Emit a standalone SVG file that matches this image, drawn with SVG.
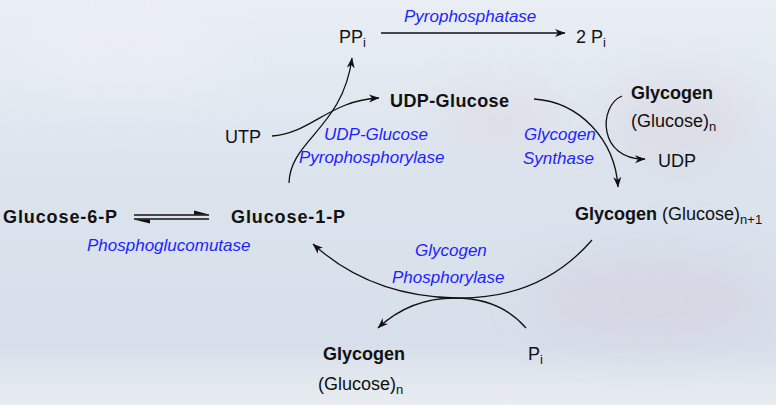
<svg xmlns="http://www.w3.org/2000/svg" width="776" height="405" viewBox="0 0 776 405">
<defs>
<linearGradient id="bg" x1="0" y1="0" x2="0" y2="1">
<stop offset="0" stop-color="#e9eef4"/>
<stop offset="0.45" stop-color="#dbe3ed"/>
<stop offset="0.85" stop-color="#d7dfea"/>
<stop offset="1" stop-color="#e9edf1"/>
</linearGradient>
<filter id="blur" x="-50%" y="-50%" width="200%" height="200%"><feGaussianBlur stdDeviation="25"/></filter>
<marker id="ah" markerUnits="userSpaceOnUse" markerWidth="11" markerHeight="9" refX="10" refY="4.5" orient="auto">
<path d="M0,0.5 L10.5,4.5 L0,8.5 L3,4.5 z" fill="#111"/>
</marker>
<style>
.b{font-family:"Liberation Sans",Arial,sans-serif;font-weight:bold;font-size:18px;fill:#111}
.r{font-family:"Liberation Sans",Arial,sans-serif;font-size:18px;fill:#111}
.e{font-family:"Liberation Sans",Arial,sans-serif;font-style:italic;font-size:17px;fill:#1f1fff}
.s{font-size:13px}
.g{letter-spacing:0.9px}
.c{fill:none;stroke:#111;stroke-width:1.3}
</style>
</defs>
<rect width="776" height="405" fill="url(#bg)"/>
<g filter="url(#blur)" opacity="0.4">
<ellipse cx="680" cy="120" rx="70" ry="40" fill="#d6ccd6"/>
<ellipse cx="650" cy="300" rx="120" ry="40" fill="#d0c8d6"/>
<ellipse cx="500" cy="120" rx="60" ry="30" fill="#dad2da"/>
<ellipse cx="120" cy="60" rx="120" ry="40" fill="#f0f3f7"/>
</g>
<g id="connectors">
<path class="c" d="M381,33 H565" marker-end="url(#ah)"/>
<path class="c" d="M272,136 C310,134 330,100 379,98" marker-end="url(#ah)"/>
<path class="c" d="M289,183 C290,140 343,128 352,58" marker-end="url(#ah)"/>
<path class="c" d="M534,99 C580,102 615,140 618,187" marker-end="url(#ah)"/>
<path class="c" d="M622,96 C598,106 598,160 645,159" marker-end="url(#ah)"/>
<path class="c" d="M592,240 Q540,300 455,298 Q370,296 313,244" marker-end="url(#ah)"/>
<path class="c" d="M526,328 Q500,298 455,298 Q410,298 378,328" marker-end="url(#ah)"/>
<g id="equilibrium">
<path class="c" d="M134,215 H209"/>
<polygon points="194,210.5 209,214.4 194,214.4" fill="#111"/>
<path class="c" d="M134,219 H209"/>
<polygon points="134,219.6 150,219.6 150,223.5" fill="#111"/>
</g>
</g>
<g id="ppi"><text class="r" x="339" y="43">PP<tspan class="s" dy="4">i</tspan></text></g>
<g id="pyrophosphatase"><text class="e" x="404" y="22">Pyrophosphatase</text></g>
<g id="two-pi"><text class="r" x="576" y="43">2 P<tspan class="s" dy="4">i</tspan></text></g>
<g id="udp-glucose"><text class="b" x="390" y="107" style="letter-spacing:0.4px">UDP-Glucose</text></g>
<g id="glycogen-n-top"><text class="b" x="631" y="99">Glycogen</text><text class="r" x="631" y="127">(Glucose)<tspan class="s" dy="4">n</tspan></text></g>
<g id="udp"><text class="r" x="658" y="167">UDP</text></g>
<g id="glycogen-synthase"><text class="e" x="524" y="140">Glycogen</text><text class="e" x="523" y="164">Synthase</text></g>
<g id="utp"><text class="r" x="225" y="143">UTP</text></g>
<g id="udp-glucose-pyrophosphorylase"><text class="e" x="324" y="140">UDP-Glucose</text><text class="e" x="299" y="163">Pyrophosphorylase</text></g>
<g id="glucose-6-p"><text class="b g" x="3" y="223">Glucose-6-P</text></g>
<g id="glucose-1-p"><text class="b g" x="231" y="223">Glucose-1-P</text></g>
<g id="phosphoglucomutase"><text class="e" x="87" y="251">Phosphoglucomutase</text></g>
<g id="glycogen-n1"><text class="r" x="575" y="220"><tspan class="b">Glycogen</tspan> (Glucose)<tspan class="s" dy="4">n+1</tspan></text></g>
<g id="glycogen-phosphorylase"><text class="e" x="415" y="256">Glycogen</text><text class="e" x="392" y="283">Phosphorylase</text></g>
<g id="glycogen-n-bottom"><text class="b" x="323" y="360">Glycogen</text><text class="r" x="318" y="390">(Glucose)<tspan class="s" dy="4">n</tspan></text></g>
<g id="pi"><text class="r" x="528" y="360">P<tspan class="s" dy="4">i</tspan></text></g>
</svg>
